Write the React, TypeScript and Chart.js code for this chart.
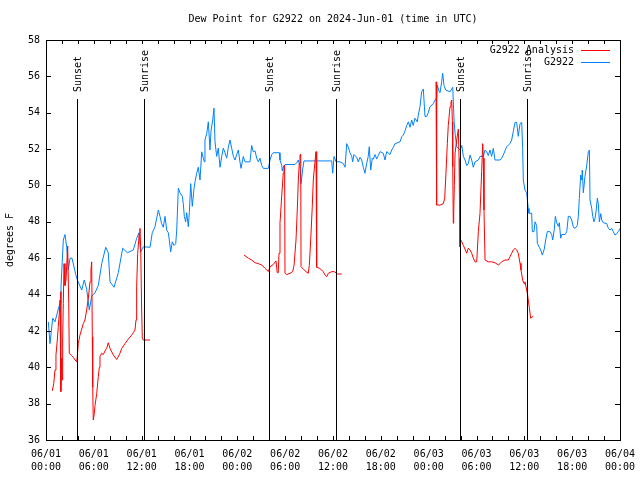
import React, { useEffect, useRef } from "react";
import { Chart, registerables } from "chart.js";

Chart.register(...registerables);

const FONT_FAMILY = "'DejaVu Sans Mono', monospace";
const TITLE = "Dew Point for G2922 on 2024-Jun-01 (time in UTC)";
const Y_LABEL = "degrees F";
const DAY_LABELS = ["06/01", "06/02", "06/03", "06/04"];
const SERIES_NAMES = ["G2922 Analysis", "G2922"];
const SERIES_COLORS = ["#ff0000", "#0080ff"];

const SUN_HOURS = [3.87, 12.25, 27.92, 36.32, 51.98, 60.38];
const SUN_LABELS = ["Sunset", "Sunrise", "Sunset", "Sunrise", "Sunset", "Sunrise"];

// Observations (hours since 06/01 00:00 UTC, degrees F)
const OBS_HOURS = [
  0.29, 0.5, 0.84, 1.13, 1.54, 1.76, 1.88, 2.17, 2.38, 2.6, 2.8, 3.01, 3.26, 3.73, 3.93, 4.48, 4.8, 5.1, 5.43, 5.73,
  6.15, 6.56, 6.99, 7.49, 7.81, 8.03, 8.53, 9.07, 9.62, 10.2, 10.95, 11.38, 11.67, 11.88, 12.2, 13.05, 13.33, 13.67,
  14.09, 14.3, 14.5, 14.71, 14.93, 15.14, 15.34, 15.47, 15.64, 15.84, 16.06, 16.27, 16.4, 16.6, 16.81, 17.1, 17.22,
  17.35, 17.52, 17.65, 17.85, 17.98, 18.15, 18.35, 18.56, 18.69, 18.9, 19.1, 19.32, 19.53, 19.73, 19.86, 19.94, 20.16,
  20.36, 20.57, 20.7, 20.91, 21.07, 21.2, 21.41, 21.61, 21.83, 22.04, 22.24, 22.45, 22.67, 22.87, 23.08, 23.29, 23.5,
  23.71, 23.92, 24.12, 24.33, 24.46, 24.75, 24.96, 25.59, 25.8, 26.0, 26.22, 26.43, 26.63, 26.84, 27.06, 27.26, 27.89,
  28.1, 28.31, 28.51, 29.27, 29.35, 29.57, 29.64, 29.75, 29.98, 31.23, 31.45, 31.65, 31.86, 31.99, 32.2, 32.36, 35.84,
  35.96, 36.13, 36.38, 36.88, 37.3, 37.51, 37.72, 37.92, 38.13, 38.35, 38.47, 38.63, 38.97, 39.17, 39.39, 39.6, 39.8,
  40.01, 40.22, 40.42, 40.55, 40.73, 40.93, 41.06, 41.27, 41.48, 41.68, 41.9, 42.31, 42.52, 42.74, 43.15, 43.36, 43.57,
  43.78, 44.41, 44.62, 44.82, 45.03, 45.25, 45.45, 45.66, 45.87, 46.07, 46.28, 46.57, 46.7, 46.91, 47.12, 47.33, 47.54,
  47.75, 47.95, 48.17, 48.58, 48.8, 49.0, 49.08, 49.29, 49.42, 49.63, 49.76, 49.92, 50.14, 50.68, 51.02, 51.18, 51.31,
  51.52, 51.72, 51.93, 52.15, 52.35, 52.56, 52.77, 52.97, 53.19, 53.4, 53.6, 53.82, 54.23, 54.44, 54.86, 55.07, 55.28,
  55.48, 55.69, 55.9, 56.11, 56.32, 56.95, 57.16, 57.36, 57.57, 57.79, 57.99, 58.2, 58.41, 58.61, 58.83, 59.04, 59.24,
  59.46, 59.67, 59.79, 59.87, 60.08, 60.29, 60.49, 60.58, 60.92, 61.0, 61.21, 61.34, 61.55, 61.63, 61.88, 62.05, 62.25,
  62.5, 62.68, 62.88, 63.22, 63.43, 63.56, 63.76, 63.89, 64.06, 64.26, 64.39, 64.56, 64.69, 65.11, 65.32, 65.52, 65.73,
  65.94, 66.15, 66.36, 66.64, 66.77, 66.9, 67.07, 67.2, 67.27, 67.4, 67.61, 67.83, 68.03, 68.16, 68.24, 68.45, 68.58,
  68.74, 68.87, 68.99, 69.16, 69.29, 69.41, 69.59, 69.71, 69.91, 70.34, 70.54, 70.75, 70.96, 71.16, 71.37, 71.59,
  71.79, 72.0,
];
const OBS_VALUES = [
  42.5, 41.3, 42.7, 42.5, 43.2, 43.5, 44.4, 47.0, 47.3, 46.6, 45.35, 46.0, 46.0, 45.1, 44.8, 44.25, 44.8, 44.3, 43.15,
  43.9, 44.1, 44.5, 45.7, 46.6, 46.3, 44.7, 44.4, 45.2, 46.55, 46.3, 46.45, 47.1, 47.4, 46.35, 46.63, 46.6, 47.4, 47.73,
  48.65, 48.3, 47.9, 47.7, 48.3, 47.55, 47.4, 47.0, 46.35, 46.9, 46.7, 46.8, 47.55, 49.85, 49.6, 49.4, 49.0, 48.3, 48.0,
  48.5, 47.73, 48.5, 50.1, 48.85, 49.8, 50.2, 50.67, 51.0, 50.3, 51.85, 51.5, 51.3, 52.5, 52.85, 53.5, 51.95, 53.0,
  53.6, 54.25, 52.4, 51.6, 52.05, 51.0, 51.6, 52.05, 51.8, 51.5, 52.1, 52.5, 52.05, 51.6, 51.4, 51.7, 51.95, 51.3,
  50.94, 51.6, 51.3, 51.3, 52.2, 51.85, 51.9, 51.5, 51.3, 51.5, 51.1, 50.94, 50.94, 51.4, 51.7, 51.8, 51.8, 51.4, 51.1,
  50.8, 51.0, 51.15, 51.15, 51.25, 51.4, 51.05, 50.1, 50.9, 51.35, 51.35, 50.67, 51.6, 51.3, 51.3, 51.2, 51.0, 52.3,
  52.1, 51.8, 51.6, 51.3, 51.7, 51.55, 51.3, 51.55, 51.4, 51.0, 50.67, 51.2, 51.6, 52.13, 50.85, 51.5, 51.45, 51.7,
  51.45, 51.65, 51.86, 51.77, 51.4, 51.86, 51.7, 51.95, 52.1, 52.3, 52.4, 52.68, 52.77, 53.0, 53.3, 53.5, 53.2, 53.6,
  53.3, 53.7, 53.5, 53.87, 54.33, 55.15, 55.3, 53.8, 53.8, 54.0, 54.33, 54.5, 54.7, 54.8, 55.52, 55.2, 55.1, 55.7,
  56.17, 55.5, 55.25, 55.15, 55.4, 53.6, 52.87, 52.13, 52.05, 51.95, 52.2, 51.6, 51.4, 51.1, 51.2, 51.67, 51.4, 51.0,
  51.3, 51.4, 51.6, 51.6, 51.95, 51.85, 51.65, 51.95, 51.6, 52.04, 51.4, 51.4, 51.5, 51.67, 51.9, 52.13, 52.22, 52.3,
  52.5, 52.96, 53.47, 53.47, 52.7, 53.4, 53.47, 52.04, 50.3, 49.75, 49.6, 48.74, 48.47, 48.47, 47.46, 47.46, 48.0,
  47.8, 46.82, 46.6, 46.45, 46.17, 46.5, 47.0, 47.46, 47.46, 47.3, 47.0, 47.6, 48.3, 47.95, 47.75, 47.95, 47.1, 47.3,
  47.3, 47.46, 48.3, 48.3, 48.1, 47.7, 47.64, 47.8, 48.3, 49.3, 50.57, 50.3, 50.85, 49.6, 50.5, 51.12, 51.86, 51.95,
  49.2, 48.75, 48.3, 48.0, 48.2, 48.55, 49.3, 48.95, 48.0, 48.45, 48.1, 47.95, 47.9, 47.64, 47.55, 47.64, 47.46, 47.27,
  47.35, 47.46, 47.64,
];

// Analysis (null = no analysis available)
const ANALYSIS_HOURS = [
  0.79, 0.97, 1.13, 1.25, 1.42, 1.54, 1.67, 1.76, 1.84, 1.88, 1.97, 2.01, 2.09, 2.17, 2.26, 2.38, 2.51, 2.72, 2.85,
  2.92, 3.22, 3.42, 3.64, 3.85, 3.93, 4.05, 4.26, 4.48, 4.68, 4.89, 5.1, 5.31, 5.52, 5.64, 5.73, 5.81, 5.86, 5.93,
  6.06, 6.15, 6.36, 6.56, 6.69, 6.77, 6.99, 7.19, 7.4, 7.61, 7.81, 8.03, 8.44, 8.87, 9.28, 9.5, 9.91, 10.32, 10.75,
  10.95, 11.16, 11.29, 11.37, 11.5, 11.7, 11.79, 11.88, 12.0, 12.08, 12.2, 13.05, 13.5,
  24.84, 25.38, 25.8, 26.22, 26.63, 27.06, 27.47, 27.89, 28.1, 28.51, 28.85, 29.01, 29.13, 29.23, 29.35, 29.56, 29.76,
  29.85, 29.93, 29.98, 30.19, 30.61, 30.94, 31.11, 31.36, 31.52, 31.65, 31.77, 31.86, 31.95, 31.99, 32.27, 32.61,
  32.9, 33.03, 33.2, 33.4, 33.53, 33.71, 33.87, 33.95, 34.28, 34.58, 34.78, 35.0, 35.21, 35.41, 35.84, 36.13, 36.38,
  36.54, 37.09, 37.5,
  48.92, 49.0, 49.42, 49.84, 50.01, 50.17, 50.34, 50.46, 50.68, 50.8, 50.89, 50.97, 51.02, 51.09, 51.14, 51.22, 51.31,
  51.52, 51.72, 51.81, 51.93, 52.02, 52.15, 52.35, 52.56, 52.77, 52.97, 53.19, 53.4, 53.6, 53.82, 54.03, 54.23, 54.44,
  54.65, 54.78, 54.86, 54.94, 55.07, 55.48, 55.9, 56.32, 56.74, 56.95, 57.16, 57.57, 57.99, 58.2, 58.41, 58.61, 58.83,
  59.04, 59.24, 59.46, 59.58, 59.79, 59.96, 60.08, 60.29, 60.41, 60.49, 60.62, 60.79, 60.96, 61.13,
];
const ANALYSIS_VALUES = [
  38.7, 39.1, 39.85, 40.67, 41.5, 42.23, 42.97, 43.7, 44.16, 38.66, 40.5, 39.3, 41.5, 43.52, 45.7, 44.5, 44.8, 46.67,
  43.5, 40.77, 40.65, 40.55, 40.4, 40.3, 40.6, 41.3, 41.77, 42.1, 42.4, 42.6, 43.15, 43.8, 44.7, 45.35, 45.8, 41.68,
  38.9, 37.1, 37.45, 37.9, 38.55, 39.5, 40.0, 40.6, 40.77, 40.7, 40.9, 41.04, 41.35, 41.04, 40.68, 40.43, 40.77, 41.04,
  41.3, 41.55, 41.77, 41.9, 42.05, 42.6, 44.43, 46.27, 47.37, 47.64, 46.5, 43.15, 41.6, 41.5, 41.5, null,
  46.17, 46.0, 45.9, 45.75, 45.7, 45.63, 45.44, 45.26, 45.53, 45.65, 45.85, 45.2, 45.2, 46.27, 47.92, 49.38, 50.67,
  51.1, 51.1, 45.17, 45.1, 45.17, 45.26, 45.6, 47.0, 48.65, 50.3, 51.2, 51.67, 51.73, 45.53, 45.4, 45.26, 45.17, 45.6,
  47.0, 48.83, 50.3, 51.2, 51.86, 45.5, 45.45, 45.35, 45.26, 45.07, 44.98, 45.17, 45.26, 45.26, 45.2, 45.13, 45.13,
  null,
  55.7, 48.92, 48.92, 49.0, 49.3, 50.67, 52.3, 53.3, 54.33, 54.6, 54.7, 53.5, 51.03, 47.92, 48.5, 50.0, 51.77, 52.5,
  53.1, 51.5, 46.63, 47.0, 46.9, 46.7, 46.5, 46.27, 46.55, 46.45, 46.27, 46.0, 45.8, 45.8, 47.46, 48.47, 50.77, 52.3,
  51.5, 48.65, 45.9, 45.8, 45.8, 45.75, 45.63, 45.7, 45.8, 45.9, 45.9, 46.08, 46.27, 46.45, 46.54, 46.45, 46.27, 45.72,
  45.35, 44.8, 44.6, 44.7, 44.25, 44.0, 43.7, 43.3, 42.7, 42.75, 42.82,
];

const X_MIN = 0;
const X_MAX = 72;
const Y_MIN = 36;
const Y_MAX = 58;

const font = (size: number) => `${size}px ${FONT_FAMILY}`;

const decorPlugin = {
  id: "decor",
  afterDatasetsDraw(chart: any) {
    const { ctx, chartArea: a, scales } = chart;
    const x = scales.x;
    const y = scales.y;
    ctx.save();
    ctx.strokeStyle = "#000";
    ctx.fillStyle = "#000";
    ctx.lineWidth = 1;

    // Sunrise / sunset markers
    SUN_HOURS.forEach((h, i) => {
      const px = Math.round(x.getPixelForValue(h)) + 0.5;
      ctx.beginPath();
      ctx.moveTo(px, a.top + 59);
      ctx.lineTo(px, a.bottom);
      ctx.stroke();
      ctx.save();
      ctx.translate(px + 1, a.top + 52);
      ctx.rotate(-Math.PI / 2);
      ctx.font = font(10);
      ctx.textAlign = "left";
      ctx.textBaseline = "middle";
      ctx.fillText(SUN_LABELS[i], 0, 0);
      ctx.restore();
    });

    // Frame
    ctx.strokeRect(a.left + 0.5, a.top + 0.5, a.right - a.left, a.bottom - a.top);

    // Inward tick marks
    ctx.beginPath();
    for (let h = X_MIN; h <= X_MAX; h += 2) {
      const px = Math.round(x.getPixelForValue(h)) + 0.5;
      ctx.moveTo(px, a.bottom);
      ctx.lineTo(px, a.bottom - 4);
      ctx.moveTo(px, a.top);
      ctx.lineTo(px, a.top + 4);
    }
    for (let v = Y_MIN; v <= Y_MAX; v += 2) {
      const py = Math.round(y.getPixelForValue(v)) + 0.5;
      ctx.moveTo(a.left, py);
      ctx.lineTo(a.left + 5, py);
      ctx.moveTo(a.right, py);
      ctx.lineTo(a.right - 5, py);
    }
    ctx.stroke();

    // Legend (top right, inside plot)
    ctx.font = font(10);
    ctx.textAlign = "right";
    ctx.textBaseline = "middle";
    SERIES_NAMES.forEach((name, i) => {
      const ly = a.top + 10 + i * 12;
      ctx.fillStyle = "#000";
      ctx.fillText(name, a.right - 46, ly);
      ctx.strokeStyle = SERIES_COLORS[i];
      ctx.beginPath();
      ctx.moveTo(a.right - 39, ly + 0.5);
      ctx.lineTo(a.right - 10, ly + 0.5);
      ctx.stroke();
    });
    ctx.restore();
  },
};

function pad2(n: number) {
  return n < 10 ? "0" + n : String(n);
}

export default function App() {
  const canvasRef = useRef<HTMLCanvasElement | null>(null);

  useEffect(() => {
    const canvas = canvasRef.current;
    if (!canvas) return;
    const analysisData = ANALYSIS_HOURS.map((h, i) => ({ x: h, y: ANALYSIS_VALUES[i] }));
    const obsData = OBS_HOURS.map((h, i) => ({ x: h, y: OBS_VALUES[i] }));

    const chart = new Chart(canvas, {
      type: "line",
      data: {
        datasets: [
          {
            label: SERIES_NAMES[0],
            data: analysisData as any,
            borderColor: SERIES_COLORS[0],
            backgroundColor: SERIES_COLORS[0],
            borderWidth: 1,
            pointRadius: 0,
            tension: 0,
            spanGaps: false,
          },
          {
            label: SERIES_NAMES[1],
            data: obsData as any,
            borderColor: SERIES_COLORS[1],
            backgroundColor: SERIES_COLORS[1],
            borderWidth: 1,
            pointRadius: 0,
            tension: 0,
            spanGaps: false,
          },
        ],
      },
      options: {
        responsive: false,
        animation: false,
        devicePixelRatio: 1,
        layout: { padding: { left: 0, right: 20, top: 0, bottom: 0 } },
        font: { family: FONT_FAMILY, size: 10 },
        color: "#000",
        plugins: {
          legend: { display: false },
          tooltip: { enabled: false },
          title: {
            display: true,
            text: TITLE,
            fullSize: false,
            color: "#000",
            font: { family: FONT_FAMILY, size: 10, weight: "normal", lineHeight: 1.2 },
            padding: { top: 13, bottom: 15 },
          },
        },
        scales: {
          x: {
            type: "linear",
            min: X_MIN,
            max: X_MAX,
            grid: { display: false, drawTicks: false },
            border: { display: false },
            afterFit: (s: any) => {
              s.height = 40;
              s.paddingLeft = 0;
              s.paddingRight = 0;
            },
            ticks: {
              stepSize: 6,
              autoSkip: false,
              maxRotation: 0,
              padding: 8,
              color: "#000",
              font: { family: FONT_FAMILY, size: 10, lineHeight: 1.3 },
              callback: (value: any) => {
                const v = Number(value);
                if (v % 6 !== 0) return "";
                const day = Math.floor(v / 24);
                return [DAY_LABELS[day], pad2(v % 24) + ":00"];
              },
            },
          },
          y: {
            type: "linear",
            min: Y_MIN,
            max: Y_MAX,
            grid: { display: false, drawTicks: false },
            border: { display: false },
            afterFit: (s: any) => {
              s.width = 46;
              s.paddingTop = 0;
              s.paddingBottom = 0;
            },
            title: {
              display: true,
              text: Y_LABEL,
              color: "#000",
              font: { family: FONT_FAMILY, size: 10, lineHeight: 1.2 },
              padding: { top: 4, bottom: 0 },
            },
            ticks: {
              stepSize: 2,
              padding: 6,
              color: "#000",
              font: { family: FONT_FAMILY, size: 10 },
              callback: (value: any) => String(value),
            },
          },
        },
      },
      plugins: [decorPlugin],
    });
    return () => chart.destroy();
  }, []);

  return (
    <div style={{ position: "fixed", left: 0, top: 0, width: 640, height: 480, background: "#fff" }}>
      <canvas ref={canvasRef} width={640} height={480} style={{ display: "block", width: 640, height: 480 }} />
    </div>
  );
}
